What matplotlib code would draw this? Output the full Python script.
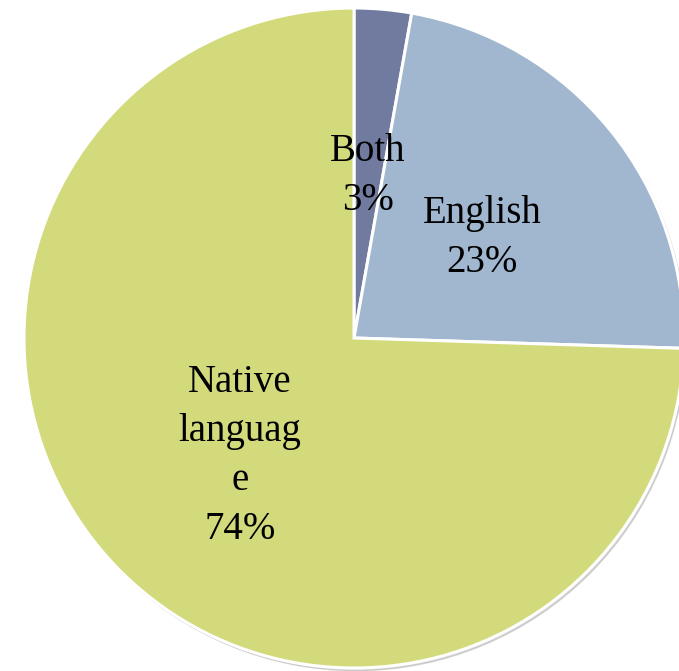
import matplotlib
matplotlib.use("Agg")
import matplotlib.pyplot as plt

# slice data (clockwise from 12 o'clock)
labels = ["Both", "English", "Native\nlanguag\ne"]
values = [2.8, 22.7, 74.5]
pct_text = ["3%", "23%", "74%"]
colors = ["#717ba0", "#a0b7cf", "#d3da7c"]

# label centres in pixel coordinates of the original picture
label_px = [(368, 176), (482, 238), (240, 456)]

W, H = 679, 671
cx, cy, R = 354, 338, 330

fig = plt.figure(figsize=(W / 100, H / 100), dpi=100)
ax = fig.add_axes([0, 0, 1, 1])

# faint shadow under the pie
shadow = plt.Circle((0.006, -0.008), 1.0, color="#b0b0b0", alpha=0.5, zorder=0)
ax.add_patch(shadow)

ax.pie(values, colors=colors, startangle=90, counterclock=False,
       radius=1.0, center=(0, 0), frame=True,
       wedgeprops=dict(edgecolor="white", linewidth=2.2))
ax.set_xlim(-cx / R, (W - cx) / R)
ax.set_ylim(-(H - cy) / R, cy / R)
ax.set_aspect("auto")
ax.axis("off")

for lab, pct, (px, py) in zip(labels, pct_text, label_px):
    x = (px - cx) / R
    y = (cy - py) / R
    ax.text(x, y, lab + "\n" + pct, ha="center", va="center",
            fontsize=28, family="Liberation Serif", color="black",
            linespacing=1.42)

fig.savefig("out.png", dpi=100)
